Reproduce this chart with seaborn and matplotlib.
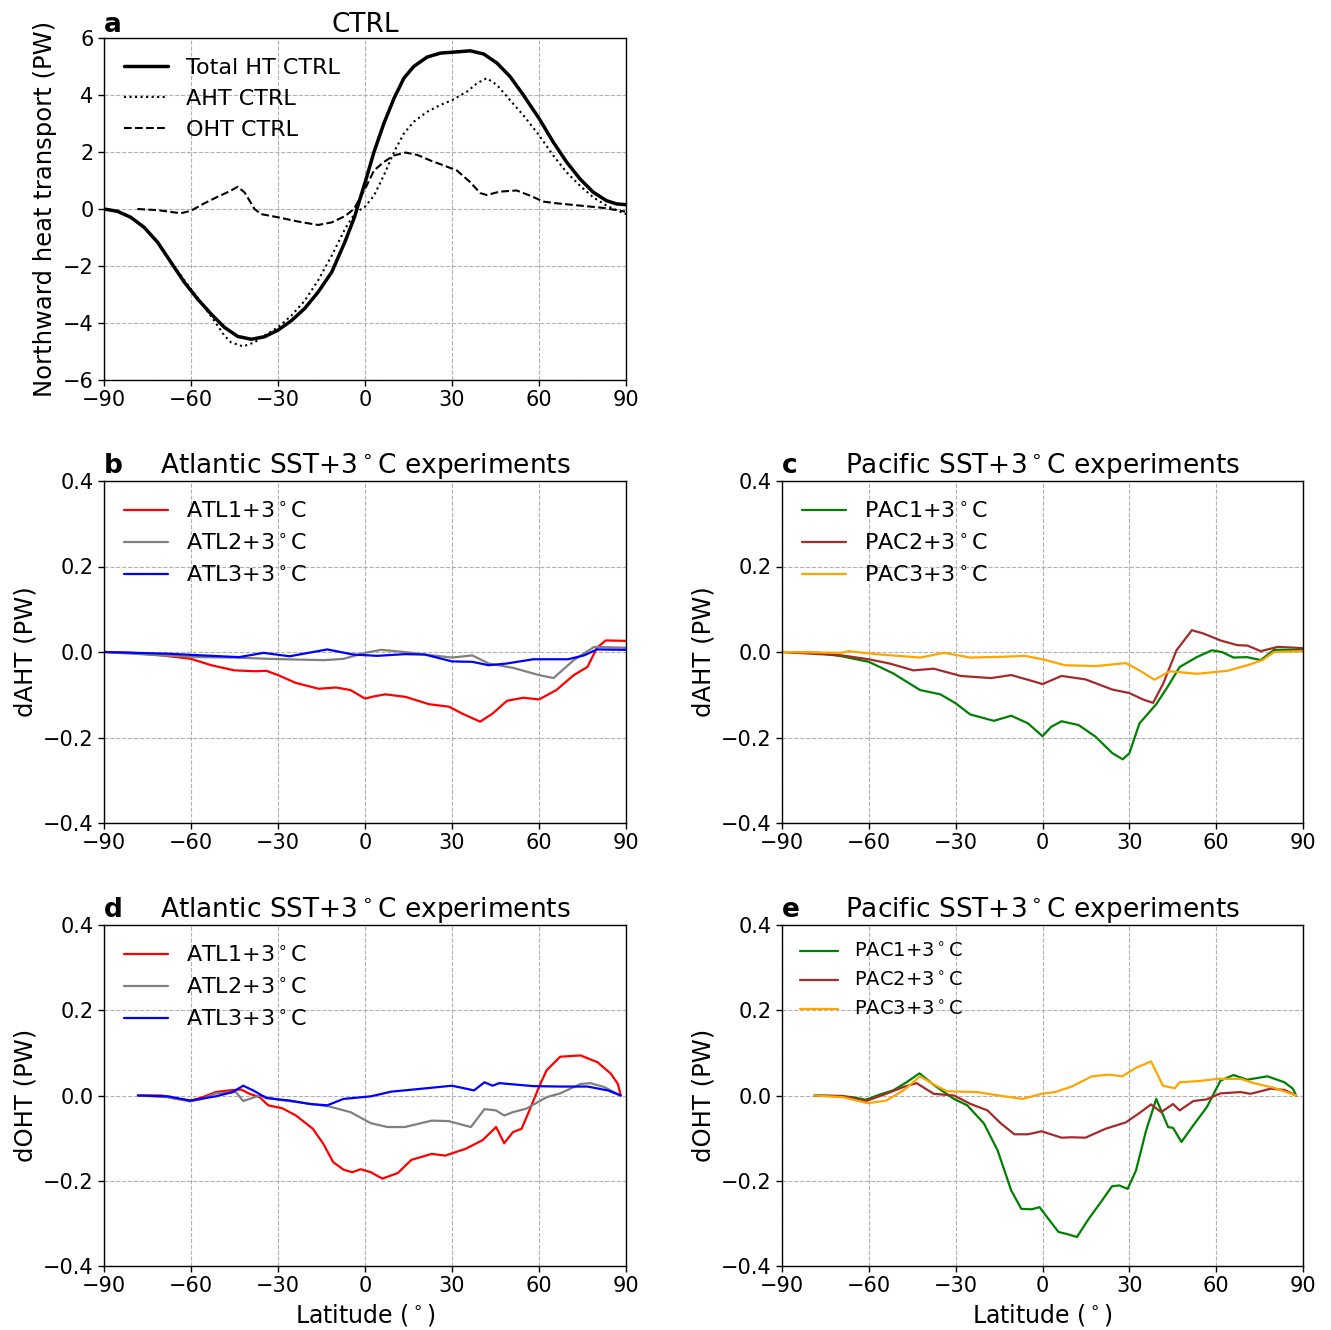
import numpy as np
import pandas as pd
import matplotlib
matplotlib.use("Agg")
import matplotlib.pyplot as plt
import seaborn as sns

# ---------------- Panel a (CTRL) ----------------
tot_lat = [-90, -85.4, -80.8, -76.2, -71.5, -66.9, -62.3, -57.7, -53.1, -48.5, -43.9, -39.2, -34.6, -30, -25.4, -20.8,
           -16.2, -11.5, -6.9, -3.5, -2.8, 0, 3.1, 6.5, 10, 13.4, 16.8, 21.4, 26, 30, 36.3, 40.9, 45.5, 50, 54.6, 60,
           64.9, 69.5, 74.1, 78.7, 83.3, 86.7, 90]
tot_val = [0, -0.08, -0.29, -0.64, -1.17, -1.87, -2.57, -3.16, -3.68, -4.15, -4.47, -4.57, -4.48, -4.25, -3.92, -3.49,
           -2.92, -2.22, -1.15, -0.25, 0, 0.92, 2.0, 3.0, 3.88, 4.59, 5.0, 5.33, 5.47, 5.5, 5.55, 5.44, 5.12, 4.65, 4.0, 3.18,
           2.35, 1.65, 1.06, 0.59, 0.29, 0.18, 0.15]

aht_lat = [-90, -85.4, -80.8, -76.2, -71.5, -66.9, -62.3, -57.7, -52, -48.5, -46.2, -42.1, -38.1, -34.6, -30, -25.4,
           -20.8, -16.2, -11.5, -6.9, -3.5, 0, 3.1, 6.5, 10, 13.4, 16.8, 21.4, 26, 30, 35.2, 38.6, 42, 45.5, 50, 54.6,
           60, 64.9, 69.5, 74.1, 78.7, 83.3, 87.9, 90]
aht_val = [0, -0.08, -0.29, -0.64, -1.17, -1.87, -2.5, -3.12, -3.92, -4.44, -4.68, -4.82, -4.68, -4.44, -4.15, -3.74,
           -3.22, -2.51, -1.64, -0.7, -0.15, 0.08, 0.47, 1.18, 2.0, 2.65, 3.06, 3.41, 3.65, 3.82, 4.12, 4.41, 4.59, 4.35, 3.82, 3.29,
           2.59, 1.88, 1.29, 0.82, 0.41, 0.12, -0.09, -0.18]

oht_lat = [-78.5, -71.5, -63.5, -60, -55.4, -50.8, -46.7, -43.9, -41.5, -38.1, -35.8, -30, -23.1, -16.2, -11.5, -6.9,
           -3.8, 0, 3.1, 6.5, 10, 14, 18, 22.6, 27.1, 31.7, 36.3, 39.7, 42, 46.5, 52.3, 56.9, 61.5, 66.1, 74.1, 82.1, 89.7]
oht_val = [0, -0.04, -0.15, -0.06, 0.2, 0.43, 0.62, 0.78, 0.58, 0, -0.18, -0.29, -0.44, -0.56, -0.47, -0.25,
           0.0, 0.7, 1.35, 1.65, 1.88, 1.98, 1.9, 1.7, 1.53, 1.35, 0.94, 0.56, 0.49, 0.61, 0.65, 0.47, 0.26, 0.2, 0.12, 0.04, -0.09]

# ---------------- Panel b (dAHT, Atlantic) ----------------
b_atl1_lat = [-90, -80, -70, -60, -53, -45, -38, -34, -30, -24, -16, -10, -5, 0, 3, 7, 14, 22, 29, 33.5, 39.7, 44, 49, 54.6, 60, 66, 72, 76.7, 80, 83, 90]
b_atl1_val = [0, -0.002, -0.008, -0.016, -0.031, -0.043, -0.045, -0.044, -0.054, -0.072, -0.086, -0.083, -0.089, -0.109, -0.104, -0.099, -0.105, -0.122, -0.128, -0.144, -0.163, -0.144, -0.114, -0.107, -0.111, -0.089, -0.054, -0.035, 0.01, 0.027, 0.026]
b_atl2_lat = [-90, -70, -56, -45, -33, -21.5, -14, -7.4, 0, 5.5, 13.7, 20.7, 30, 37, 42.7, 51, 60, 65, 72, 79, 90]
b_atl2_val = [0, -0.008, -0.012, -0.013, -0.016, -0.018, -0.019, -0.016, -0.002, 0.005, 0, -0.006, -0.013, -0.008, -0.027, -0.037, -0.054, -0.061, -0.019, 0.012, 0.01]
b_atl3_lat = [-90, -68, -56, -43.4, -35, -26, -13, -4, 4.3, 13.7, 20.7, 30, 37, 42.7, 48.8, 58, 70, 75.5, 80, 90]
b_atl3_val = [0, -0.004, -0.008, -0.012, -0.002, -0.01, 0.006, -0.006, -0.009, -0.005, -0.006, -0.022, -0.023, -0.031, -0.027, -0.017, -0.017, -0.008, 0.006, 0.005]

# ---------------- Panel c (dAHT, Pacific) ----------------
c_pac1_lat = [-90, -77.4, -69.3, -60, -51.6, -42.3, -35.3, -30, -25, -16.8, -10.8, -5, 0, 3, 6.6, 12.5, 18.3, 24.2, 27.7, 30, 33.5, 39.3, 42.8, 47.4, 53.3, 58.5, 62, 66, 70.7, 75.4, 80, 90]
c_pac1_val = [0, -0.002, -0.01, -0.023, -0.05, -0.089, -0.099, -0.12, -0.146, -0.161, -0.149, -0.167, -0.197, -0.175, -0.162, -0.171, -0.198, -0.237, -0.251, -0.237, -0.167, -0.122, -0.086, -0.035, -0.012, 0.004, 0.0, -0.013, -0.012, -0.019, 0.005, 0.005]
c_pac2_lat = [-90, -69.3, -60, -52.8, -44.6, -37.6, -28.3, -17.8, -10.8, -5, 0, 6.6, 14.8, 24.2, 30, 34.7, 38.2, 41.7, 46.3, 51.6, 55.7, 61.5, 67.3, 70.8, 75.4, 81.3, 90]
c_pac2_val = [0, -0.008, -0.017, -0.027, -0.043, -0.039, -0.056, -0.061, -0.054, -0.065, -0.075, -0.056, -0.064, -0.088, -0.096, -0.111, -0.119, -0.074, 0.004, 0.051, 0.043, 0.027, 0.016, 0.015, 0.002, 0.012, 0.009]
c_pac3_lat = [-90, -69.3, -67, -57.6, -42.3, -34, -25, -13, -6.2, 0, 7.8, 18.3, 28.8, 33.5, 38.7, 44, 53.3, 63.8, 70.8, 76, 80, 90]
c_pac3_val = [0, -0.002, 0.002, -0.005, -0.013, -0.002, -0.013, -0.011, -0.009, -0.017, -0.031, -0.033, -0.026, -0.043, -0.065, -0.045, -0.051, -0.044, -0.031, -0.019, 0, 0.002]

# ---------------- Panel d (dOHT, Atlantic) ----------------
d_atl1_lat = [-78.3, -70, -66.7, -60, -56, -51.5, -46.8, -42.7, -39.8, -36.3, -33.4, -28.5, -23.8, -18, -14.4, -11, -7.4, -4.4, -1.5, 2,
              6, 11.3, 16, 23, 27.7, 34.7, 40.5, 45.2, 48, 51, 54, 56.7, 60, 62.6, 67.3, 74.3, 80.2, 84.8, 87.2, 88.2]
d_atl1_val = [0, 0, -0.006, -0.012, -0.004, 0.008, 0.012, 0.014, 0.004, -0.004, -0.023, -0.03, -0.047, -0.078, -0.113, -0.156, -0.174, -0.18, -0.173, -0.18,
              -0.195, -0.182, -0.151, -0.137, -0.141, -0.125, -0.105, -0.074, -0.112, -0.086, -0.078, -0.035, 0.02, 0.059, 0.091, 0.094, 0.078, 0.051, 0.027, 0.0]
d_atl2_lat = [-78.3, -67.8, -60.3, -56, -51.5, -44.5, -42, -36.3, -30, -21.5, -12.2, -5, 2, 7.8, 13.7, 23, 28.8, 36.5, 41.2, 45.2, 48, 51, 55.6, 62.6, 67.3, 74.3, 77.7, 82.4, 88.2]
d_atl2_val = [0, -0.004, -0.014, -0.008, 0.005, 0.008, -0.013, 0, -0.01, -0.017, -0.026, -0.039, -0.065, -0.074, -0.074, -0.059, -0.06, -0.074, -0.032, -0.035, -0.047, -0.039, -0.031, -0.004, 0.005, 0.027, 0.029, 0.02, 0]
d_atl3_lat = [-78.3, -67.8, -60.3, -51.5, -45.7, -42, -38.6, -34, -25.8, -19, -13, -7.4, 2, 9, 19.7, 30, 37.6, 41.2, 44, 46.3, 58, 67.3, 76.7, 83.7, 88.2]
d_atl3_val = [0, -0.002, -0.012, -0.002, 0.008, 0.023, 0.012, -0.006, -0.012, -0.02, -0.023, -0.008, -0.002, 0.009, 0.016, 0.023, 0.012, 0.031, 0.023, 0.029, 0.022, 0.021, 0.021, 0.012, 0]

# ---------------- Panel e (dOHT, Pacific) ----------------
e_pac1_lat = [-78.7, -69, -65.6, -61, -56.3, -51.6, -47, -42.5, -37.6, -30.6, -26, -20.2, -15.5, -10.8, -7.3, -3.8, -1, 2, 5.5, 9, 11.9,
              16, 20.6, 24, 26.5, 29.4, 32.3, 35.8, 39.3, 43.4, 45.1, 48, 52.1, 56.8, 61.5, 66, 70.7, 77.7, 83.6, 86.5, 87.6]
e_pac1_val = [0, -0.002, -0.004, -0.01, 0.002, 0.012, 0.031, 0.052, 0.025, -0.008, -0.023, -0.066, -0.129, -0.223, -0.266, -0.267, -0.262, -0.289, -0.32, -0.326, -0.332,
              -0.289, -0.246, -0.213, -0.211, -0.219, -0.176, -0.082, -0.008, -0.074, -0.076, -0.109, -0.07, -0.027, 0.035, 0.048, 0.037, 0.045, 0.031, 0.016, 0]
e_pac2_lat = [-78.7, -69, -61, -54, -48, -43.5, -37.6, -30.6, -24.8, -19, -14.3, -9.7, -5, -0.3, 6.6, 10.1, 14.8, 21.8, 28.8, 33.5, 37.5, 41, 45.1, 47.4, 52.1, 56.8, 61.5, 68.4, 71.9, 78.9, 83.6, 87.6]
e_pac2_val = [0, -0.001, -0.013, 0.004, 0.02, 0.029, 0.004, 0, -0.02, -0.035, -0.066, -0.091, -0.091, -0.084, -0.099, -0.098, -0.099, -0.078, -0.063, -0.041, -0.021, -0.039, -0.02, -0.035, -0.013, -0.009, 0.005, 0.008, 0.004, 0.016, 0.013, 0]
e_pac3_lat = [-78.7, -69, -60.4, -54, -48, -42.3, -37.6, -33, -22.5, -13.2, -6.8, -0.3, 4.3, 10.1, 17.1, 23, 27.6, 32.3, 37.5, 41.6, 45.7, 47.4, 54.4, 60.3, 68.4, 73, 80, 87.6]
e_pac3_val = [0, -0.004, -0.018, -0.012, 0.012, 0.045, 0.026, 0.01, 0.008, -0.002, -0.008, 0.004, 0.008, 0.021, 0.045, 0.049, 0.045, 0.065, 0.08, 0.023, 0.017, 0.031, 0.034, 0.039, 0.039, 0.029, 0.018, 0]

xticks = [-90, -60, -30, 0, 30, 60, 90]
yticks_a = [-6, -4, -2, 0, 2, 4, 6]
yticks_d = [-0.4, -0.2, 0.0, 0.2, 0.4]

atl_labels = ["ATL1+3$^\\circ$C", "ATL2+3$^\\circ$C", "ATL3+3$^\\circ$C"]
pac_labels = ["PAC1+3$^\\circ$C", "PAC2+3$^\\circ$C", "PAC3+3$^\\circ$C"]
atl_colors = ["red", "gray", "blue"]
pac_colors = ["green", "brown", "orange"]

sns.set_style("ticks")
plt.rcParams['font.family'] = ['DejaVu Sans']
plt.rcParams['axes.unicode_minus'] = True
plt.rcParams['text.color'] = 'black'
plt.rcParams['axes.labelcolor'] = 'black'
plt.rcParams['xtick.color'] = 'black'
plt.rcParams['ytick.color'] = 'black'

W, H = 1331, 1330
fig = plt.figure(figsize=(W / 100, H / 100), dpi=100)


def box(l, t, r, b):
    return [l / W, 1 - b / H, (r - l) / W, (b - t) / H]


ax_a = fig.add_axes(box(104, 38, 626, 380))
ax_b = fig.add_axes(box(104, 481, 626, 823))
ax_c = fig.add_axes(box(782, 481, 1303, 823))
ax_d = fig.add_axes(box(104, 925, 626, 1266))
ax_e = fig.add_axes(box(782, 925, 1303, 1266))

TICK_FS = 15
LEG_FS = 16
TITLE_FS = 19
YLAB_FS = 17.5
XLAB_FS = 17


def style(ax, yticks, ylabel, letter, title, xlabel=None):
    ax.set_xlim(-90, 90)
    ax.set_ylim(yticks[0], yticks[-1])
    ax.set_xticks(xticks)
    ax.set_yticks(yticks)
    ax.tick_params(labelsize=TICK_FS, direction='out', length=4, width=1, colors='black')
    ax.grid(True, linestyle='--', color='#b0b0b0', linewidth=0.8)
    ax.set_axisbelow(True)
    for s in ax.spines.values():
        s.set_color('black')
        s.set_linewidth(1.0)
    ax.set_ylabel(ylabel, fontsize=YLAB_FS)
    ax.set_xlabel(xlabel if xlabel else "", fontsize=XLAB_FS)
    ax.set_title(letter, loc='left', fontweight='bold', fontsize=TITLE_FS, pad=4)
    ax.set_title(title, fontsize=TITLE_FS, pad=4)


# Panel a
sns.lineplot(x=tot_lat, y=tot_val, ax=ax_a, color='black', linewidth=2.5, label='Total HT CTRL')
sns.lineplot(x=aht_lat, y=aht_val, ax=ax_a, color='black', linewidth=1.5, linestyle=':', label='AHT CTRL')
sns.lineplot(x=oht_lat, y=oht_val, ax=ax_a, color='black', linewidth=1.5, linestyle='--', label='OHT CTRL')
style(ax_a, yticks_a, "Northward heat transport (PW)", "a", "CTRL")
ax_a.legend(loc='upper left', frameon=False, fontsize=LEG_FS)

# Panel b
for lat, val, lab, col in zip([b_atl1_lat, b_atl2_lat, b_atl3_lat], [b_atl1_val, b_atl2_val, b_atl3_val], atl_labels, atl_colors):
    sns.lineplot(x=lat, y=val, ax=ax_b, color=col, linewidth=1.6, label=lab)
style(ax_b, yticks_d, "dAHT (PW)", "b", "Atlantic SST+3$^\\circ$C experiments")
ax_b.legend(loc='upper left', frameon=False, fontsize=LEG_FS)

# Panel c
for lat, val, lab, col in zip([c_pac1_lat, c_pac2_lat, c_pac3_lat], [c_pac1_val, c_pac2_val, c_pac3_val], pac_labels, pac_colors):
    sns.lineplot(x=lat, y=val, ax=ax_c, color=col, linewidth=1.6, label=lab)
style(ax_c, yticks_d, "dAHT (PW)", "c", "Pacific SST+3$^\\circ$C experiments")
ax_c.legend(loc='upper left', frameon=False, fontsize=LEG_FS)

# Panel d
for lat, val, lab, col in zip([d_atl1_lat, d_atl2_lat, d_atl3_lat], [d_atl1_val, d_atl2_val, d_atl3_val], atl_labels, atl_colors):
    sns.lineplot(x=lat, y=val, ax=ax_d, color=col, linewidth=1.6, label=lab)
style(ax_d, yticks_d, "dOHT (PW)", "d", "Atlantic SST+3$^\\circ$C experiments", "Latitude ($^\\circ$)")
ax_d.legend(loc='upper left', frameon=False, fontsize=LEG_FS)

# Panel e
for lat, val, lab, col in zip([e_pac1_lat, e_pac2_lat, e_pac3_lat], [e_pac1_val, e_pac2_val, e_pac3_val], pac_labels, pac_colors):
    sns.lineplot(x=lat, y=val, ax=ax_e, color=col, linewidth=1.6, label=lab)
style(ax_e, yticks_d, "dOHT (PW)", "e", "Pacific SST+3$^\\circ$C experiments", "Latitude ($^\\circ$)")
ax_e.legend(loc='upper left', frameon=False, fontsize=14)

fig.savefig("out.png", dpi=100)
